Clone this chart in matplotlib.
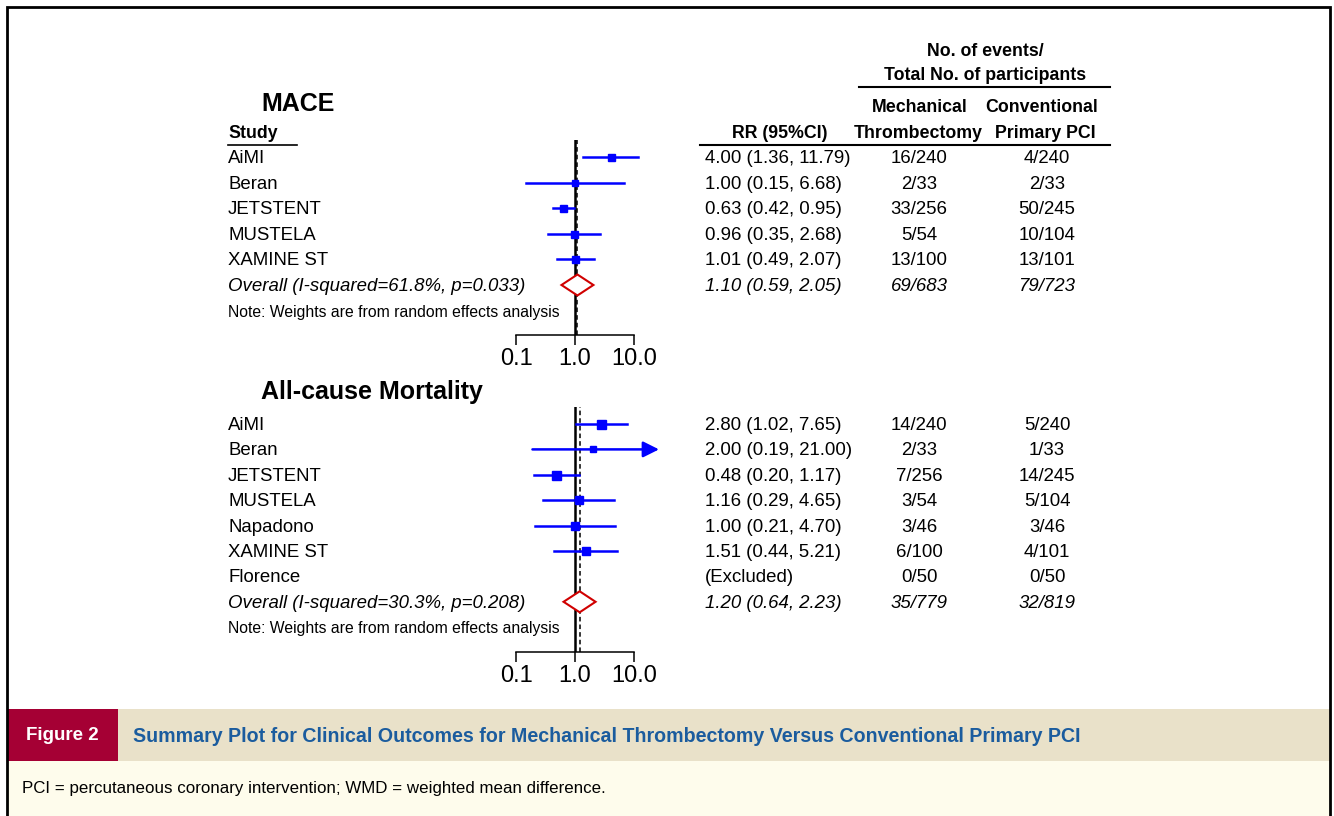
import numpy as np
import matplotlib.pyplot as plt
from matplotlib.patches import Rectangle, Polygon

W, H = 1334, 816

# MACE
mace_study = ['AiMI', 'Beran', 'JETSTENT', 'MUSTELA', 'XAMINE ST']
mace_rr = [4.00, 1.00, 0.63, 0.96, 1.01]
mace_lo = [1.36, 0.15, 0.42, 0.35, 0.49]
mace_hi = [11.79, 6.68, 0.95, 2.68, 2.07]
mace_mech = ['16/240', '2/33', '33/256', '5/54', '13/100']
mace_conv = ['4/240', '2/33', '50/245', '10/104', '13/101']
mace_overall = (1.10, 0.59, 2.05)
mace_overall_mech = '69/683'
mace_overall_conv = '79/723'
mace_het = 'Overall (I-squared=61.8%, p=0.033)'

# all-cause mortality (Florence had no events in either arm)
mort_study = ['AiMI', 'Beran', 'JETSTENT', 'MUSTELA', 'Napadono', 'XAMINE ST', 'Florence']
mort_rr = [2.80, 2.00, 0.48, 1.16, 1.00, 1.51, None]
mort_lo = [1.02, 0.19, 0.20, 0.29, 0.21, 0.44, None]
mort_hi = [7.65, 21.00, 1.17, 4.65, 4.70, 5.21, None]
mort_mech = ['14/240', '2/33', '7/256', '3/54', '3/46', '6/100', '0/50']
mort_conv = ['5/240', '1/33', '14/245', '5/104', '3/46', '4/101', '0/50']
mort_overall = (1.20, 0.64, 2.23)
mort_overall_mech = '35/779'
mort_overall_conv = '32/819'
mort_het = 'Overall (I-squared=30.3%, p=0.208)'

ticks = [0.1, 1.0, 10.0]
tick_labels = ['0.1', '1.0', '10.0']

# box sizes (px) follow the study weights
mace_box = [7, 6, 7, 7, 7]
mort_box = [9, 6, 9, 7.5, 8, 8, 0]

BLUE = '#0000FF'
RED = '#D00000'
ARIAL = ['Liberation Sans', 'DejaVu Sans']

fig = plt.figure(figsize=(W / 100, H / 100), dpi=100)
ax = fig.add_axes([0, 0, 1, 1])
ax.set_xlim(0, W)
ax.set_ylim(H, 0)
ax.axis('off')

# pixel -> log-scale mapping for the forest panels; CIs past ci_max get an arrow to the edge
px_left, px_right = 480, 659
x01, decade = 516, 59.0
xmin = 10 ** (-1 - (x01 - px_left) / decade)
xmax = 10 ** (1 + (px_right - (x01 + 2 * decade)) / decade)
ci_max = 20


def txt(x, y, s, size=13.4, weight='normal', style='normal', ha='left', color='black'):
    ax.text(x, y, s, fontsize=size, fontweight=weight, fontstyle=style, ha=ha, va='center',
            family=ARIAL, color=color)


def panel(title, title_y, studies, rr, lo, hi, mech, conv, overall, om, oc, het,
          row0, step, top, axis_y, boxes, header=False):
    txt(261, title_y, title, size=18, weight='bold')
    if header:
        txt(228, 134, 'Study', size=12.8, weight='bold')
        ax.plot([228, 297], [145, 145], color='black', lw=1.2)
        txt(732, 134, 'RR (95%CI)', size=12.8, weight='bold')

    fa = fig.add_axes([px_left / W, 1 - axis_y / H, (px_right - px_left) / W, (axis_y - top) / H])
    fa.set_xscale('log')
    fa.set_xlim(xmin, xmax)
    fa.set_ylim(axis_y, top)
    fa.patch.set_alpha(0)
    for s in ['top', 'right', 'left']:
        fa.spines[s].set_visible(False)
    fa.spines['bottom'].set_bounds(ticks[0], ticks[-1])
    fa.spines['bottom'].set_linewidth(1.1)
    fa.set_yticks([])
    fa.set_xticks(ticks)
    fa.set_xticklabels(tick_labels, fontsize=17, family=ARIAL)
    fa.minorticks_off()
    fa.tick_params(axis='x', direction='out', length=7.5, width=1.1, pad=2)

    fa.axvline(1.0, color='black', lw=1.8, zorder=1)
    fa.axvline(overall[0], color='black', lw=1.1, ls=(0, (3, 2)), zorder=1)

    n = len(studies)
    ys = [row0 + i * step for i in range(n + 2)]
    for i in range(n):
        y = ys[i]
        txt(228, y + 1.5, studies[i])
        txt(919, y + 1.5, mech[i], ha='center')
        txt(1047, y + 1.5, conv[i], ha='center')
        if rr[i] is None:
            txt(705, y + 1.5, '(Excluded)')
            continue
        txt(705, y + 1.5, f'{rr[i]:.2f} ({lo[i]:.2f}, {hi[i]:.2f})')
        if hi[i] > ci_max:
            fa.annotate('', xy=(xmax, y), xytext=(lo[i], y), annotation_clip=False,
                        arrowprops=dict(arrowstyle='-|>', color=BLUE, lw=1.8,
                                        mutation_scale=24, shrinkA=0, shrinkB=0))
        else:
            fa.plot([lo[i], hi[i]], [y, y], color=BLUE, lw=1.8, zorder=3, clip_on=False)
        fa.plot(rr[i], y, marker='s', ms=boxes[i] * 0.72, color=BLUE, mec=BLUE, zorder=4,
                clip_on=False)

    y = ys[n]
    est, olo, ohi = overall
    fa.add_patch(Polygon([(olo, y), (est, y - 10.5), (ohi, y), (est, y + 10.5)],
                         closed=True, facecolor='white', edgecolor=RED, lw=1.5, zorder=4))
    txt(228, y + 1.5, het, style='italic')
    txt(705, y + 1.5, f'{est:.2f} ({olo:.2f}, {ohi:.2f})', style='italic')
    txt(919, y + 1.5, om, ha='center', style='italic')
    txt(1047, y + 1.5, oc, ha='center', style='italic')
    txt(228, ys[n + 1] + 1.5, 'Note: Weights are from random effects analysis', size=11.3)


# column header
txt(985, 51, 'No. of events/', size=12.8, weight='bold', ha='center')
txt(985, 76, 'Total No. of participants', size=12.8, weight='bold', ha='center')
ax.plot([859, 1110], [87, 87], color='black', lw=1.5)
txt(920, 107, 'Mechanical', size=12.8, weight='bold', ha='center')
txt(918, 134, 'Thrombectomy', size=12.8, weight='bold', ha='center')
txt(1042, 107, 'Conventional', size=12.8, weight='bold', ha='center')
txt(1045, 134, 'Primary PCI', size=12.8, weight='bold', ha='center')
ax.plot([700, 1110], [145, 145], color='black', lw=1.5)

panel('MACE', 104, mace_study, mace_rr, mace_lo, mace_hi, mace_mech, mace_conv,
      mace_overall, mace_overall_mech, mace_overall_conv, mace_het,
      157, 25.6, 140, 335, mace_box, header=True)
panel('All-cause Mortality', 392, mort_study, mort_rr, mort_lo, mort_hi, mort_mech, mort_conv,
      mort_overall, mort_overall_mech, mort_overall_conv, mort_het,
      424, 25.4, 407, 652, mort_box)

# caption band
ax.add_patch(Rectangle((7, 709), 1323, 52, facecolor='#E9E1C9', edgecolor='none'))
ax.add_patch(Rectangle((7, 761), 1323, 60, facecolor='#FEFCEC', edgecolor='none'))
ax.add_patch(Rectangle((7, 709), 111, 52, facecolor='#A50034', edgecolor='none'))
txt(62, 736, 'Figure 2', size=13.5, weight='bold', ha='center', color='white')
txt(133, 736, 'Summary Plot for Clinical Outcomes for Mechanical Thrombectomy Versus '
    'Conventional Primary PCI', size=14.1, weight='bold', color='#1B5C9E')
txt(22, 789, 'PCI = percutaneous coronary intervention; WMD = weighted mean difference.', size=12.2)

# outer frame
ax.plot([7, 7, 1330, 1330], [H + 5, 7, 7, H + 5], color='black', lw=2, solid_joinstyle='miter')

fig.savefig('out.png', dpi=100)
